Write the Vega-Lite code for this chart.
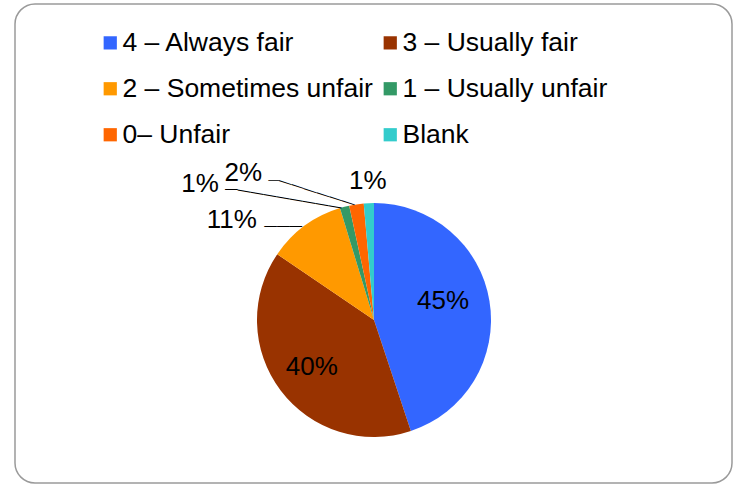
{
  "$schema": "https://vega.github.io/schema/vega-lite/v6.json",
  "width": 717,
  "height": 479,
  "padding": {"left": 15, "top": 4, "right": 4, "bottom": 2},
  "background": "white",
  "view": {"stroke": "#9a9a9a", "strokeWidth": 1.5, "cornerRadius": 20, "fill": "white"},
  "config": {
    "font": "Liberation Sans",
    "text": {"font": "Liberation Sans", "fontSize": 26, "color": "black", "align": "center", "baseline": "middle"}
  },
  "data": {
    "values": [
      {"category": "4 – Always fair", "rank": 1, "share": 0.449},
      {"category": "3 – Usually fair", "rank": 2, "share": 0.396},
      {"category": "2 – Sometimes unfair", "rank": 3, "share": 0.108},
      {"category": "1 – Usually unfair", "rank": 4, "share": 0.013},
      {"category": "0– Unfair", "rank": 5, "share": 0.020},
      {"category": "Blank", "rank": 6, "share": 0.014}
    ]
  },
  "encoding": {
    "theta": {"field": "share", "type": "quantitative", "stack": true},
    "order": {"field": "rank", "type": "quantitative", "sort": "ascending"}
  },
  "layer": [
    {
      "mark": {"type": "arc", "outerRadius": 117, "xOffset": 0.5, "yOffset": 76.5},
      "encoding": {
        "color": {
          "field": "category",
          "type": "nominal",
          "scale": {
            "domain": ["4 – Always fair", "3 – Usually fair", "2 – Sometimes unfair", "1 – Usually unfair", "0– Unfair", "Blank"],
            "range": ["#3366FF", "#993300", "#FF9900", "#339966", "#FF6600", "#33CCCC"]
          },
          "legend": {
            "orient": "none",
            "legendX": 82,
            "legendY": 25.5,
            "direction": "horizontal",
            "columns": 2,
            "title": null,
            "symbolType": "square",
            "symbolSize": 175,
            "symbolStrokeWidth": 0,
            "labelFont": "Liberation Sans",
            "labelFontSize": 26.5,
            "labelColor": "black",
            "labelOffset": -1,
            "labelLimit": 400,
            "columnPadding": 4,
            "rowPadding": 19,
            "padding": 0
          }
        }
      }
    },
    {
      "mark": {"type": "text", "xOffset": 0.5, "yOffset": 76.5, "dy": -8},
      "encoding": {
        "radius": {"value": 70},
        "text": {"condition": {"test": "datum.category === '4 – Always fair'", "field": "share", "format": ".0%"}, "value": ""}
      }
    },
    {
      "mark": {"type": "text", "xOffset": 0.5, "yOffset": 76.5},
      "encoding": {
        "radius": {"value": 78},
        "text": {"condition": {"test": "datum.category === '3 – Usually fair'", "field": "share", "format": ".0%"}, "value": ""}
      }
    },
    {
      "mark": {"type": "text", "xOffset": 0.5, "yOffset": 76.5, "dx": -45, "dy": 32.5},
      "encoding": {
        "radius": {"value": 164},
        "text": {"condition": {"test": "datum.category === '2 – Sometimes unfair'", "field": "share", "format": ".0%"}, "value": ""}
      }
    },
    {
      "mark": {"type": "text", "xOffset": 0.5, "yOffset": 76.5, "align": "left", "fontSize": 12.67, "dx": -12.46, "dy": 38.57},
      "encoding": {
        "radius": {"value": 164},
        "text": {"condition": {"test": "datum.category === '2 – Sometimes unfair'", "value": "———"}, "value": ""}
      }
    },
    {
      "mark": {"type": "text", "xOffset": 0.5, "yOffset": 76.5, "dx": -130, "dy": 33},
      "encoding": {
        "radius": {"value": 175},
        "text": {"condition": {"test": "datum.category === '1 – Usually unfair'", "field": "share", "format": ".0%"}, "value": ""}
      }
    },
    {
      "mark": {"type": "text", "xOffset": 0.5, "yOffset": 76.5, "align": "left", "fontSize": 12.7, "dx": -104.95, "dy": 38.67},
      "encoding": {
        "radius": {"value": 175},
        "text": {"condition": {"test": "datum.category === '1 – Usually unfair'", "value": "—"}, "value": ""}
      }
    },
    {
      "mark": {"type": "text", "xOffset": 0.5, "yOffset": 76.5, "align": "left", "fontSize": 13.19, "angle": 9.82, "dx": -84.3, "dy": 53.84},
      "encoding": {
        "radius": {"value": 175},
        "text": {"condition": {"test": "datum.category === '1 – Usually unfair'", "value": "————————"}, "value": ""}
      }
    },
    {
      "mark": {"type": "text", "xOffset": 0.5, "yOffset": 76.5, "dx": -106, "dy": 16},
      "encoding": {
        "radius": {"value": 165},
        "text": {"condition": {"test": "datum.category === '0– Unfair'", "field": "share", "format": ".0%"}, "value": ""}
      }
    },
    {
      "mark": {"type": "text", "xOffset": 0.5, "yOffset": 76.5, "align": "left", "fontSize": 10.7, "dx": -80.91, "dy": 23.13},
      "encoding": {
        "radius": {"value": 165},
        "text": {"condition": {"test": "datum.category === '0– Unfair'", "value": "—"}, "value": ""}
      }
    },
    {
      "mark": {"type": "text", "xOffset": 0.5, "yOffset": 76.5, "align": "left", "fontSize": 13.3, "angle": 17.73, "dx": -59.84, "dy": 43.41},
      "encoding": {
        "radius": {"value": 165},
        "text": {"condition": {"test": "datum.category === '0– Unfair'", "value": "——————"}, "value": ""}
      }
    },
    {
      "mark": {"type": "text", "xOffset": 0.5, "yOffset": 76.5},
      "encoding": {
        "radius": {"value": 139},
        "text": {"condition": {"test": "datum.category === 'Blank'", "field": "share", "format": ".0%"}, "value": ""}
      }
    }
  ]
}
